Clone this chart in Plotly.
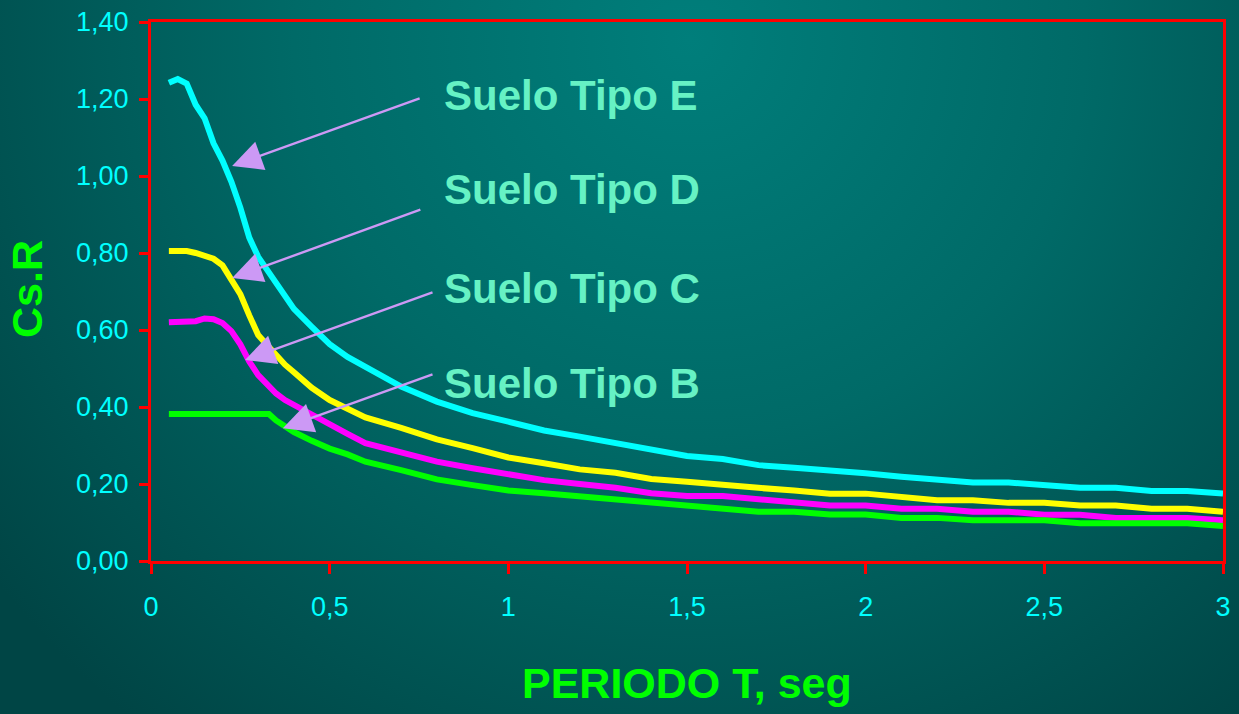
import base64
import plotly.graph_objects as go

# ---------------- data ----------------
periodo = [0.05, 0.075, 0.1, 0.125, 0.15, 0.175, 0.2, 0.225, 0.25, 0.275, 0.3, 0.33, 0.35,
           0.375, 0.4, 0.45, 0.5, 0.55, 0.6, 0.7, 0.8, 0.9, 1.0, 1.1, 1.2, 1.3, 1.4, 1.5,
           1.6, 1.7, 1.8, 1.9, 2.0, 2.1, 2.2, 2.3, 2.4, 2.5, 2.6, 2.7, 2.8, 2.9, 3.0]

suelo_e = [1.242, 1.252, 1.240, 1.185, 1.150, 1.085, 1.040, 0.985, 0.918, 0.840, 0.790, 0.748,
           0.718, 0.685, 0.655, 0.608, 0.563, 0.530, 0.505, 0.453, 0.414, 0.384, 0.362, 0.339,
           0.323, 0.306, 0.290, 0.273, 0.265, 0.249, 0.242, 0.236, 0.228, 0.219, 0.212, 0.204,
           0.204, 0.197, 0.190, 0.190, 0.182, 0.182, 0.175]

suelo_d = [0.805, 0.805, 0.805, 0.800, 0.793, 0.785, 0.768, 0.733, 0.693, 0.638, 0.587, 0.556,
           0.535, 0.510, 0.490, 0.450, 0.418, 0.395, 0.373, 0.346, 0.316, 0.293, 0.269, 0.254,
           0.238, 0.229, 0.213, 0.206, 0.197, 0.190, 0.183, 0.175, 0.175, 0.166, 0.158, 0.158,
           0.151, 0.151, 0.144, 0.144, 0.136, 0.136, 0.128]

suelo_c = [0.620, 0.620, 0.620, 0.623, 0.630, 0.628, 0.618, 0.597, 0.563, 0.518, 0.483, 0.452,
           0.435, 0.418, 0.405, 0.382, 0.352, 0.330, 0.306, 0.284, 0.258, 0.241, 0.224, 0.210,
           0.200, 0.190, 0.176, 0.169, 0.169, 0.160, 0.152, 0.144, 0.144, 0.136, 0.136, 0.128,
           0.128, 0.120, 0.120, 0.112, 0.112, 0.112, 0.106]

suelo_b = [0.382, 0.382, 0.382, 0.382, 0.382, 0.382, 0.382, 0.382, 0.382, 0.382, 0.382, 0.382,
           0.365, 0.350, 0.335, 0.312, 0.292, 0.277, 0.258, 0.236, 0.212, 0.197, 0.183, 0.176,
           0.168, 0.160, 0.152, 0.144, 0.137, 0.128, 0.128, 0.121, 0.121, 0.112, 0.112, 0.106,
           0.106, 0.106, 0.098, 0.098, 0.098, 0.098, 0.091]

series_names = ["Suelo Tipo E", "Suelo Tipo D", "Suelo Tipo C", "Suelo Tipo B"]
series_values = [suelo_e, suelo_d, suelo_c, suelo_b]
series_colors = ["#00FFFF", "#FFFF00", "#FF00FF", "#00FF00"]

x_tickvals = [0, 0.5, 1, 1.5, 2, 2.5, 3]
x_ticktext = ["0", "0,5", "1", "1,5", "2", "2,5", "3"]
y_tickvals = [0, 0.2, 0.4, 0.6, 0.8, 1.0, 1.2, 1.4]
y_ticktext = ["0,00", "0,20", "0,40", "0,60", "0,80", "1,00", "1,20", "1,40"]

x_title = "PERIODO T, seg"
y_title = "Cs.R"

# label annotations: text anchor, arrow tail, arrow head (data units)
label_text_pos = [(0.814, 1.208), (0.814, 0.964), (0.814, 0.709), (0.814, 0.460)]
arrow_tail = [(0.756, 1.203), (0.758, 0.914), (0.792, 0.699), (0.792, 0.486)]
arrow_head = [(0.227, 1.026), (0.227, 0.735), (0.263, 0.522), (0.369, 0.345)]

# ---------------- figure ----------------
W, H = 1239, 714
ML, MR, MT, MB = 151, 16, 22, 153
PW, PH = W - ML - MR, H - MT - MB

fig = go.Figure()
for name, vals, col in zip(series_names, series_values, series_colors):
    fig.add_trace(go.Scatter(x=periodo, y=vals, mode="lines", name=name,
                             line=dict(color=col, width=6), hoverinfo="x+y+name"))

svg = f'''<svg xmlns="http://www.w3.org/2000/svg" width="{W}" height="{H}" viewBox="0 0 {W} {H}" preserveAspectRatio="none">
<defs><radialGradient id="g" gradientUnits="userSpaceOnUse" cx="690" cy="40" r="880">
<stop offset="0" stop-color="#007E7B"/>
<stop offset="0.45" stop-color="#006A67"/>
<stop offset="1" stop-color="#004545"/>
</radialGradient></defs>
<rect x="0" y="0" width="{W}" height="{H}" fill="url(#g)"/>
</svg>'''
src = "data:image/svg+xml;base64," + base64.b64encode(svg.encode()).decode()

fig.add_layout_image(dict(source=src, xref="paper", yref="paper",
                          x=-ML / PW, y=1 + MT / PH, sizex=W / PW, sizey=H / PH,
                          xanchor="left", yanchor="top", sizing="stretch", layer="below"))

for (tx, ty), name in zip(label_text_pos, series_names):
    fig.add_annotation(x=tx, y=ty, xref="x", yref="y", text=f"<b>{name}</b>", showarrow=False,
                       xanchor="left", yanchor="middle",
                       font=dict(family="Liberation Sans, Arial, sans-serif", size=42, color="#66F2C4"))

for (ax_, ay_), (hx, hy) in zip(arrow_tail, arrow_head):
    fig.add_annotation(x=hx, y=hy, ax=ax_, ay=ay_, xref="x", yref="y", axref="x", ayref="y",
                       text="", showarrow=True, arrowhead=2, arrowsize=2.5, arrowwidth=2.4,
                       arrowcolor="#CC99F5", standoff=0, startstandoff=0)

title_font = dict(family="Liberation Sans, Arial, sans-serif", size=43, color="#00FF00")
fig.add_annotation(x=0.5, y=(561 - 683) / PH, xref="paper", yref="paper",
                   text=f"<b>{x_title}</b>", showarrow=False, xanchor="center", yanchor="middle",
                   font=title_font)
fig.add_annotation(x=(27 - ML) / PW, y=(561 - 289) / PH, xref="paper", yref="paper",
                   text=f"<b>{y_title}</b>", showarrow=False, xanchor="center", yanchor="middle",
                   textangle=-90, font=title_font)

tick_font = dict(family="Liberation Sans, Arial, sans-serif", size=27, color="#00FFFF")

fig.update_layout(
    width=W, height=H,
    margin=dict(l=ML, r=MR, t=MT, b=MB, autoexpand=False),
    paper_bgcolor="#005A58",
    plot_bgcolor="rgba(0,0,0,0)",
    showlegend=False,
    xaxis=dict(range=[0, 3], tickvals=x_tickvals, ticktext=x_ticktext, tickfont=tick_font,
               showgrid=False, zeroline=False, showline=True, linecolor="#FF0000", linewidth=3,
               mirror=True, ticks="outside", ticklen=10, tickwidth=3, tickcolor="#FF0000",
               ticklabelstandoff=10, automargin=False),
    yaxis=dict(range=[0, 1.4], tickvals=y_tickvals, ticktext=y_ticktext, tickfont=tick_font,
               showgrid=False, zeroline=False, showline=True, linecolor="#FF0000", linewidth=3,
               mirror=True, ticks="outside", ticklen=9, tickwidth=3, tickcolor="#FF0000",
               ticklabelstandoff=5, automargin=False),
)

fig.write_html("out.html", config={"displayModeBar": False},
               post_script="document.body.style.margin='0';document.body.style.padding='0';"
                           "document.body.style.overflow='hidden';")
